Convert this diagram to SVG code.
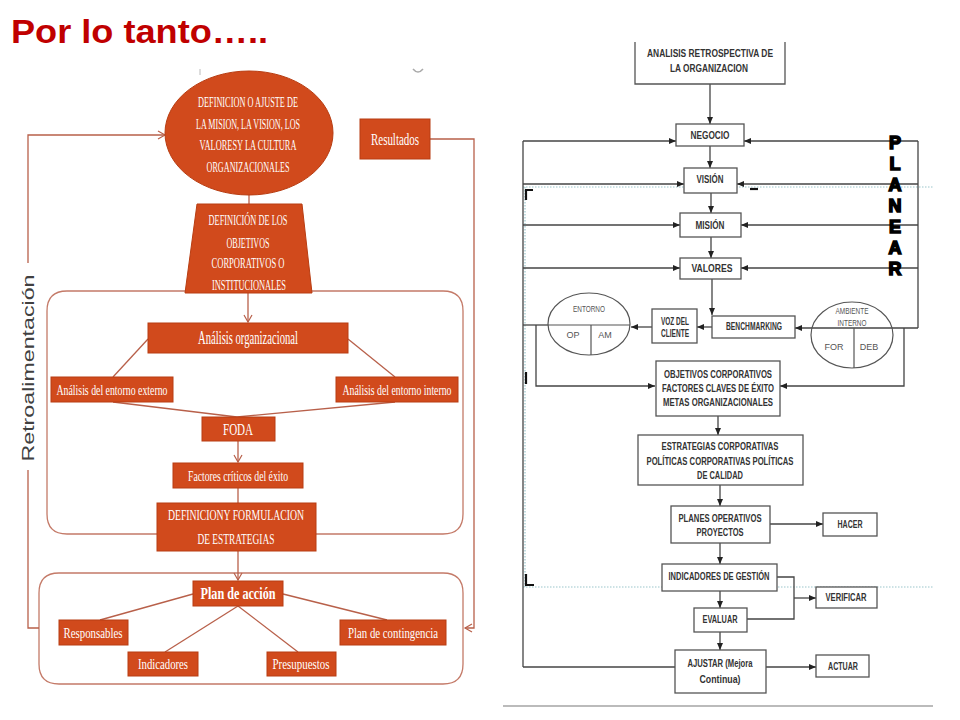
<svg xmlns="http://www.w3.org/2000/svg" width="960" height="720" viewBox="0 0 960 720">
<style>
.title{font-family:"Liberation Sans",Arial,sans-serif;font-weight:bold;font-size:34px;fill:#c00000}
.on{fill:#d14a1c;stroke:#b83d12;stroke-width:1}
.lt{font-family:"Liberation Serif","Times New Roman",serif;fill:#fff;text-anchor:middle}
.lc{stroke:#b8604a;stroke-width:1.3;fill:none}
.grp{stroke:#c47a68;stroke-width:1.3;fill:none}
.rb{fill:#fff;stroke:#555;stroke-width:1.3}
.rt{font-family:"Liberation Sans",Arial,sans-serif;font-weight:bold;font-size:10px;fill:#333;text-anchor:middle}
.rn{font-family:"Liberation Sans",Arial,sans-serif;font-size:9px;fill:#555;text-anchor:middle}
.rc{stroke:#444;stroke-width:1.3;fill:none}
.dot{stroke:#9cc6cc;stroke-width:1.2;stroke-dasharray:1.5 1.5;fill:none}
.mk{stroke:#111;stroke-width:2.2;fill:none}
.pl{font-family:"Liberation Sans",Arial,sans-serif;font-weight:bold;font-size:18px;fill:#000;stroke:#000;stroke-width:1.6;text-anchor:middle}
</style>
<defs>
<marker id="ao" markerWidth="10" markerHeight="10" refX="8" refY="5" orient="auto" markerUnits="userSpaceOnUse">
<path d="M1,1 L8,5 L1,9" fill="none" stroke="#b8604a" stroke-width="1.2"/>
</marker>
<marker id="ab" markerWidth="8" markerHeight="8" refX="7" refY="4" orient="auto" markerUnits="userSpaceOnUse">
<path d="M0,1 L7,4 L0,7 Z" fill="#222"/>
</marker>
</defs>
<rect width="960" height="720" fill="#fff"/>
<text class="title" x="11" y="43" textLength="257" lengthAdjust="spacingAndGlyphs">Por lo tanto…..</text>

<!-- artifacts top of left panel -->
<line x1="200" y1="69" x2="200" y2="75" stroke="#bbb" stroke-width="1"/>
<path d="M413,69 Q418,75 423,69" stroke="#aaa" stroke-width="1.5" fill="none"/>

<!-- LEFT DIAGRAM -->
<g id="left-connectors">
<path class="grp" d="M67,291 H443 Q463,291 463,311 V514 Q463,534 443,534 H67 Q47,534 47,514 V311 Q47,291 67,291 Z"/>
<path class="grp" d="M59,573 H443 Q463,573 463,593 V664 Q463,684 443,684 H59 Q39,684 39,664 V593 Q39,573 59,573 Z"/>
<line class="lc" x1="249" y1="195" x2="249" y2="204"/>
<line class="lc" x1="248" y1="293" x2="248" y2="322" marker-end="url(#ao)"/>
<line class="lc" x1="148" y1="339" x2="113" y2="377"/>
<line class="lc" x1="348" y1="339" x2="395" y2="377"/>
<line class="lc" x1="113" y1="402" x2="237" y2="417"/>
<line class="lc" x1="395" y1="402" x2="237" y2="417"/>
<line class="lc" x1="238" y1="441" x2="238" y2="462" marker-end="url(#ao)"/>
<line class="lc" x1="238" y1="488" x2="238" y2="503"/>
<line class="lc" x1="238" y1="551" x2="238" y2="580" marker-end="url(#ao)"/>
<line class="lc" x1="193" y1="594" x2="100" y2="620"/>
<line class="lc" x1="238" y1="606" x2="165" y2="652"/>
<line class="lc" x1="238" y1="606" x2="298" y2="652"/>
<line class="lc" x1="283" y1="594" x2="387" y2="620"/>
<path class="lc" d="M430,139 H474 V628 H465" marker-end="url(#ao)"/>
<path class="lc" d="M39,628 H28 V470"/>
<path class="lc" d="M28,263 V135 H165" marker-end="url(#ao)"/>
</g>
<text x="34" y="368" transform="rotate(-90 34 368)" font-family="Liberation Sans,Arial,sans-serif" font-size="17" fill="#404040" text-anchor="middle" textLength="187" lengthAdjust="spacingAndGlyphs">Retroalimentación</text>

<g id="n-mision">
<ellipse class="on" cx="249" cy="133" rx="84" ry="62"/>
<text class="lt" font-size="15" x="248" y="107" textLength="100" lengthAdjust="spacingAndGlyphs">DEFINICION O AJUSTE DE</text>
<text class="lt" font-size="15" x="248" y="129" textLength="104" lengthAdjust="spacingAndGlyphs">LA MISION, LA VISION, LOS</text>
<text class="lt" font-size="15" x="248" y="150" textLength="97" lengthAdjust="spacingAndGlyphs">VALORESY LA CULTURA</text>
<text class="lt" font-size="15" x="248" y="172" textLength="83" lengthAdjust="spacingAndGlyphs">ORGANIZACIONALES</text>
</g>
<g id="n-objetivos">
<path class="on" d="M197,204 H302 L312,293 H185 Z"/>
<text class="lt" font-size="14" x="248" y="225" textLength="79" lengthAdjust="spacingAndGlyphs">DEFINICIÓN DE LOS</text>
<text class="lt" font-size="14" x="248" y="248" textLength="43" lengthAdjust="spacingAndGlyphs">OBJETIVOS</text>
<text class="lt" font-size="14" x="248" y="268" textLength="73" lengthAdjust="spacingAndGlyphs">CORPORATIVOS O</text>
<text class="lt" font-size="14" x="249" y="290" textLength="74" lengthAdjust="spacingAndGlyphs">INSTITUCIONALES</text>
</g>
<g id="n-resultados">
<rect class="on" x="360" y="119" width="70" height="40"/>
<text class="lt" font-size="16" x="395" y="145" textLength="48" lengthAdjust="spacingAndGlyphs">Resultados</text>
</g>
<g id="n-analisis">
<rect class="on" x="148" y="323" width="200" height="30"/>
<text class="lt" font-size="18" x="248" y="344" textLength="100" lengthAdjust="spacingAndGlyphs">Análisis organizacional</text>
</g>
<g id="n-externo">
<rect class="on" x="51" y="377" width="122" height="25"/>
<text class="lt" font-size="15" x="112" y="395" textLength="111" lengthAdjust="spacingAndGlyphs">Análisis del entorno externo</text>
</g>
<g id="n-interno">
<rect class="on" x="336" y="377" width="122" height="25"/>
<text class="lt" font-size="15" x="397" y="395" textLength="109" lengthAdjust="spacingAndGlyphs">Análisis del entorno interno</text>
</g>
<g id="n-foda">
<rect class="on" x="202" y="417" width="73" height="24"/>
<text class="lt" font-size="17" x="238" y="435" textLength="30" lengthAdjust="spacingAndGlyphs">FODA</text>
</g>
<g id="n-factores">
<rect class="on" x="173" y="463" width="130" height="25"/>
<text class="lt" font-size="15" x="238" y="481" textLength="100" lengthAdjust="spacingAndGlyphs">Factores críticos del éxito</text>
</g>
<g id="n-estrategias">
<rect class="on" x="157" y="503" width="159" height="48"/>
<text class="lt" font-size="15" x="236" y="520" textLength="136" lengthAdjust="spacingAndGlyphs">DEFINICIONY FORMULACION</text>
<text class="lt" font-size="15" x="236" y="544" textLength="77" lengthAdjust="spacingAndGlyphs">DE ESTRATEGIAS</text>
</g>
<g id="n-plan">
<rect class="on" x="193" y="581" width="90" height="25"/>
<text class="lt" font-size="17" font-weight="bold" x="238" y="599" textLength="75" lengthAdjust="spacingAndGlyphs">Plan de acción</text>
</g>
<g id="n-responsables">
<rect class="on" x="59" y="620" width="69" height="25"/>
<text class="lt" font-size="15" x="93" y="638" textLength="59" lengthAdjust="spacingAndGlyphs">Responsables</text>
</g>
<g id="n-indicadores">
<rect class="on" x="128" y="652" width="70" height="24"/>
<text class="lt" font-size="15" x="163" y="669" textLength="50" lengthAdjust="spacingAndGlyphs">Indicadores</text>
</g>
<g id="n-presupuestos">
<rect class="on" x="267" y="652" width="69" height="24"/>
<text class="lt" font-size="15" x="301" y="669" textLength="57" lengthAdjust="spacingAndGlyphs">Presupuestos</text>
</g>
<g id="n-contingencia">
<rect class="on" x="340" y="620" width="106" height="25"/>
<text class="lt" font-size="15" x="393" y="638" textLength="90" lengthAdjust="spacingAndGlyphs">Plan de contingencia</text>
</g>

<!-- RIGHT DIAGRAM -->
<line class="dot" x1="523" y1="187" x2="933" y2="187"/>
<line class="dot" x1="523" y1="587" x2="933" y2="587"/>
<line class="dot" x1="525" y1="187" x2="525" y2="587"/>
<line x1="503" y1="706" x2="933" y2="706" stroke="#bbb" stroke-width="2"/>
<g id="right-connectors">
<line class="rc" x1="710" y1="84" x2="710" y2="124" marker-end="url(#ab)"/>
<line class="rc" x1="710" y1="146" x2="710" y2="168" marker-end="url(#ab)"/>
<line class="rc" x1="711" y1="193" x2="711" y2="213" marker-end="url(#ab)"/>
<line class="rc" x1="711" y1="237" x2="711" y2="258" marker-end="url(#ab)"/>
<line class="rc" x1="712" y1="279" x2="712" y2="315" marker-end="url(#ab)"/>
<line class="rc" x1="523" y1="141" x2="523" y2="667"/>
<line class="rc" x1="918" y1="141" x2="918" y2="328"/>
<line class="rc" x1="523" y1="141" x2="676" y2="141" marker-end="url(#ab)"/>
<line class="rc" x1="918" y1="141" x2="744" y2="141" marker-end="url(#ab)"/>
<line class="rc" x1="523" y1="184" x2="684" y2="184" marker-end="url(#ab)"/>
<line class="rc" x1="918" y1="184" x2="737" y2="184" marker-end="url(#ab)"/>
<line class="rc" x1="523" y1="225" x2="680" y2="225" marker-end="url(#ab)"/>
<line class="rc" x1="918" y1="225" x2="741" y2="225" marker-end="url(#ab)"/>
<line class="rc" x1="523" y1="268" x2="680" y2="268" marker-end="url(#ab)"/>
<line class="rc" x1="918" y1="268" x2="741" y2="268" marker-end="url(#ab)"/>
<line class="rc" x1="918" y1="328" x2="795" y2="328" marker-end="url(#ab)"/>
<line class="rc" x1="712" y1="327" x2="697" y2="327" marker-end="url(#ab)"/>
<line class="rc" x1="652" y1="327" x2="631" y2="327" marker-end="url(#ab)"/>
<line class="rc" x1="523" y1="325" x2="548" y2="325"/>
<path class="rc" d="M536,325 V386 H655" marker-end="url(#ab)"/>
<path class="rc" d="M904,328 V386 H780" marker-end="url(#ab)"/>
<line class="rc" x1="718" y1="416" x2="718" y2="435" marker-end="url(#ab)"/>
<line class="rc" x1="720" y1="485" x2="720" y2="506" marker-end="url(#ab)"/>
<line class="rc" x1="770" y1="524" x2="823" y2="524" marker-end="url(#ab)"/>
<line class="rc" x1="720" y1="543" x2="720" y2="564" marker-end="url(#ab)"/>
<path class="rc" d="M777,577 H794 V619 H747"/>
<line class="rc" x1="794" y1="598" x2="816" y2="598" marker-end="url(#ab)"/>
<line class="rc" x1="720" y1="591" x2="720" y2="608" marker-end="url(#ab)"/>
<line class="rc" x1="720" y1="632" x2="720" y2="650" marker-end="url(#ab)"/>
<line class="rc" x1="675" y1="667" x2="523" y2="667"/>
<line class="rc" x1="766" y1="667" x2="816" y2="667" marker-end="url(#ab)"/>
</g>
<!-- crop marks -->
<path class="mk" d="M526,200 V190 H533"/>
<line class="mk" x1="750" y1="189" x2="758" y2="189" stroke-width="2.5"/>
<line class="mk" x1="526" y1="372" x2="526" y2="384"/>
<path class="mk" d="M526,574 V585 H534"/>
<line class="mk" x1="750" y1="584" x2="758" y2="584"/>

<g id="n-retro">
<path class="rb" d="M635,42 V84 H785 V42"/>
<text class="rt" x="710" y="57" textLength="126" lengthAdjust="spacingAndGlyphs">ANALISIS RETROSPECTIVA DE</text>
<text class="rt" x="709" y="72" textLength="78" lengthAdjust="spacingAndGlyphs">LA ORGANIZACION</text>
</g>
<g id="n-negocio">
<rect class="rb" x="676" y="124" width="68" height="22"/>
<text class="rt" x="710" y="139" textLength="39" lengthAdjust="spacingAndGlyphs">NEGOCIO</text>
</g>
<g id="n-vision">
<rect class="rb" x="684" y="168" width="53" height="25"/>
<text class="rt" x="710" y="183" textLength="27" lengthAdjust="spacingAndGlyphs">VISIÓN</text>
</g>
<g id="n-mision-r">
<rect class="rb" x="680" y="213" width="61" height="24"/>
<text class="rt" x="710" y="229" textLength="29" lengthAdjust="spacingAndGlyphs">MISIÓN</text>
</g>
<g id="n-valores">
<rect class="rb" x="680" y="258" width="61" height="21"/>
<text class="rt" x="712" y="272" textLength="41" lengthAdjust="spacingAndGlyphs">VALORES</text>
</g>
<g id="n-planear">
<text class="pl" x="895" y="149">P</text>
<text class="pl" x="895" y="170">L</text>
<text class="pl" x="895" y="191">A</text>
<text class="pl" x="895" y="212">N</text>
<text class="pl" x="895" y="233">E</text>
<text class="pl" x="895" y="254">A</text>
<text class="pl" x="895" y="275">R</text>
</g>
<g id="n-entorno">
<ellipse cx="589" cy="324" rx="41" ry="31" fill="none" stroke="#555" stroke-width="1.2"/>
<line x1="548" y1="325" x2="630" y2="325" stroke="#555" stroke-width="1.2"/>
<line x1="591" y1="325" x2="591" y2="355" stroke="#555" stroke-width="1.2"/>
<text class="rn" x="589" y="312" textLength="32" lengthAdjust="spacingAndGlyphs">ENTORNO</text>
<text class="rn" x="573" y="338">OP</text>
<text class="rn" x="605" y="338">AM</text>
</g>
<g id="n-voz">
<rect class="rb" x="652" y="309" width="45" height="34"/>
<text class="rt" x="675" y="325" textLength="28" lengthAdjust="spacingAndGlyphs">VOZ DEL</text>
<text class="rt" x="675" y="337" textLength="28" lengthAdjust="spacingAndGlyphs">CLIENTE</text>
</g>
<g id="n-bench">
<rect class="rb" x="712" y="316" width="83" height="22"/>
<text class="rt" x="754" y="330" textLength="56" lengthAdjust="spacingAndGlyphs">BENCHMARKING</text>
</g>
<g id="n-ambiente">
<ellipse cx="852" cy="335" rx="41" ry="33" fill="none" stroke="#555" stroke-width="1.2"/>
<line x1="854" y1="328" x2="854" y2="368" stroke="#555" stroke-width="1.2"/>
<text class="rn" x="852" y="314" textLength="33" lengthAdjust="spacingAndGlyphs">AMBIENTE</text>
<text class="rn" x="852" y="326" textLength="29" lengthAdjust="spacingAndGlyphs">INTERNO</text>
<text class="rn" x="834" y="350">FOR</text>
<text class="rn" x="869" y="350">DEB</text>
</g>
<g id="n-objetivos-r">
<rect class="rb" x="656" y="361" width="124" height="55"/>
<text class="rt" x="718" y="378" textLength="108" lengthAdjust="spacingAndGlyphs">OBJETIVOS CORPORATIVOS</text>
<text class="rt" x="718" y="392" textLength="112" lengthAdjust="spacingAndGlyphs">FACTORES CLAVES DE ÉXITO</text>
<text class="rt" x="718" y="406" textLength="110" lengthAdjust="spacingAndGlyphs">METAS ORGANIZACIONALES</text>
</g>
<g id="n-estrategias-r">
<rect class="rb" x="638" y="435" width="165" height="50"/>
<text class="rt" x="720" y="450" textLength="117" lengthAdjust="spacingAndGlyphs">ESTRATEGIAS CORPORATIVAS</text>
<text class="rt" x="720" y="465" textLength="147" lengthAdjust="spacingAndGlyphs">POLÍTICAS CORPORATIVAS POLÍTICAS</text>
<text class="rt" x="720" y="479" textLength="46" lengthAdjust="spacingAndGlyphs">DE CALIDAD</text>
</g>
<g id="n-planes">
<rect class="rb" x="671" y="506" width="99" height="37"/>
<text class="rt" x="720" y="522" textLength="83" lengthAdjust="spacingAndGlyphs">PLANES OPERATIVOS</text>
<text class="rt" x="720" y="536" textLength="47" lengthAdjust="spacingAndGlyphs">PROYECTOS</text>
</g>
<g id="n-hacer">
<rect class="rb" x="823" y="513" width="54" height="23"/>
<text class="rt" x="850" y="528" textLength="25" lengthAdjust="spacingAndGlyphs">HACER</text>
</g>
<g id="n-indic">
<rect class="rb" x="662" y="564" width="115" height="27"/>
<text class="rt" x="719" y="580" textLength="101" lengthAdjust="spacingAndGlyphs">INDICADORES DE GESTIÓN</text>
</g>
<g id="n-verificar">
<rect class="rb" x="816" y="587" width="61" height="21"/>
<text class="rt" x="846" y="601" textLength="41" lengthAdjust="spacingAndGlyphs">VERIFICAR</text>
</g>
<g id="n-evaluar">
<rect class="rb" x="694" y="608" width="53" height="24"/>
<text class="rt" x="720" y="623" textLength="35" lengthAdjust="spacingAndGlyphs">EVALUAR</text>
</g>
<g id="n-ajustar">
<rect class="rb" x="675" y="650" width="91" height="43"/>
<text class="rt" x="720" y="667" textLength="65" lengthAdjust="spacingAndGlyphs">AJUSTAR (Mejora</text>
<text class="rt" x="720" y="683" font-size="11" font-weight="normal" textLength="41" lengthAdjust="spacingAndGlyphs">Continua)</text>
</g>
<g id="n-actuar">
<rect class="rb" x="816" y="655" width="53" height="22"/>
<text class="rt" x="843" y="670" textLength="30" lengthAdjust="spacingAndGlyphs">ACTUAR</text>
</g>
</svg>
